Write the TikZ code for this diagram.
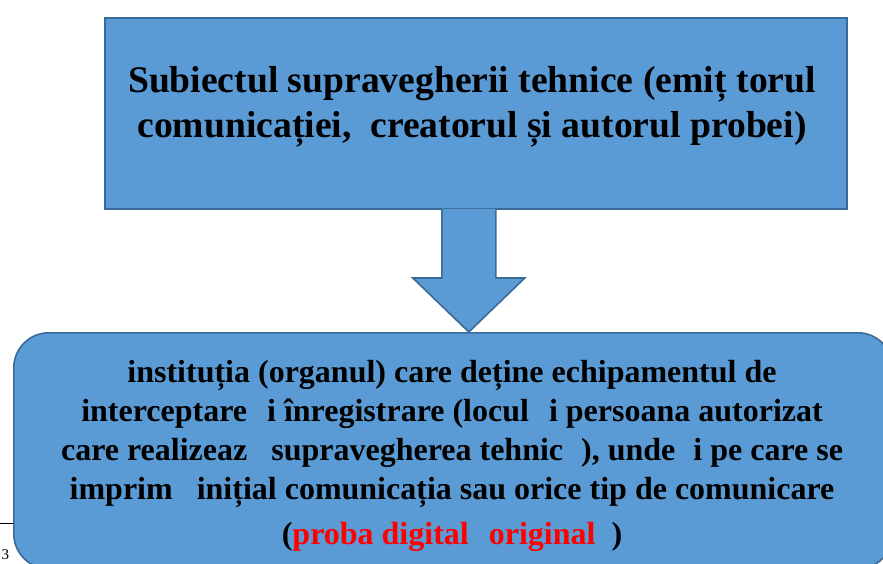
\documentclass[tikz,border=0pt]{standalone}
\usepackage{fontspec}
\setmainfont{Liberation Serif}
\definecolor{boxfill}{HTML}{5B9BD5}
\definecolor{boxline}{HTML}{3A6A98}
\definecolor{redtext}{HTML}{FF0000}
\begin{document}
\begin{tikzpicture}[x=1pt,y=1pt,
  blockbox/.style={draw=boxline,fill=boxfill,line width=1.6pt},
  toptext/.style={align=center,font=\fontsize{37.6}{45}\selectfont\bfseries,inner sep=0pt},
  bottext/.style={align=center,font=\fontsize{32}{39}\selectfont\bfseries,inner sep=0pt}]
\useasboundingbox (0,0) rectangle (883,-563);
% footnote rule and number (page fragment)
\draw[black,line width=0.8pt] (0,-523) -- (20,-523);
\node[anchor=south west,inner sep=0pt,font=\fontsize{15}{15}\selectfont] (fn) at (1.5,-560) {3};
% top box
\node[blockbox,rectangle,minimum width=742pt,minimum height=191pt,anchor=north west] (top) at (104,-17) {};
\node[toptext] (ttext) at (472,-107) {Subiectul supravegherii tehnice (emiț\hspace{10pt}torul\\comunicației,\ \ creatorul și autorul probei)};
% bottom box
\node[blockbox,rectangle,rounded corners=35pt,minimum width=879pt,minimum height=236pt,anchor=north west] (bot) at (13,-332) {};
\node[bottext] (btext) at (452,-456) {instituția (organul) care deține echipamentul de\\
interceptare\hspace{20pt}i înregistrare (locul\hspace{20pt}i persoana autorizat\hspace{14pt}\\
care realizeaz\hspace{24pt}supravegherea tehnic\hspace{18pt}), unde\hspace{18pt}i pe care se\\
imprim\hspace{24pt}inițial comunicația sau orice tip de comunicare\\[6pt]
(\textcolor{redtext}{proba digital\hspace{20pt}original}\hspace{16pt})};
% block arrow from top box to bottom box
\coordinate (as) at ([xshift=-7pt]top.south);
\coordinate (ae) at (bot.north -| as);
\draw[blockbox,line join=miter]
  ([xshift=-27pt,yshift=0.8pt]as) -- ([xshift=-27pt]as |- 0,-278)
  -- ([xshift=-56pt]as |- 0,-278) -- (ae)
  -- ([xshift=56pt]as |- 0,-278) -- ([xshift=27pt]as |- 0,-278)
  -- ([xshift=27pt,yshift=0.8pt]as);
\end{tikzpicture}
\end{document}
